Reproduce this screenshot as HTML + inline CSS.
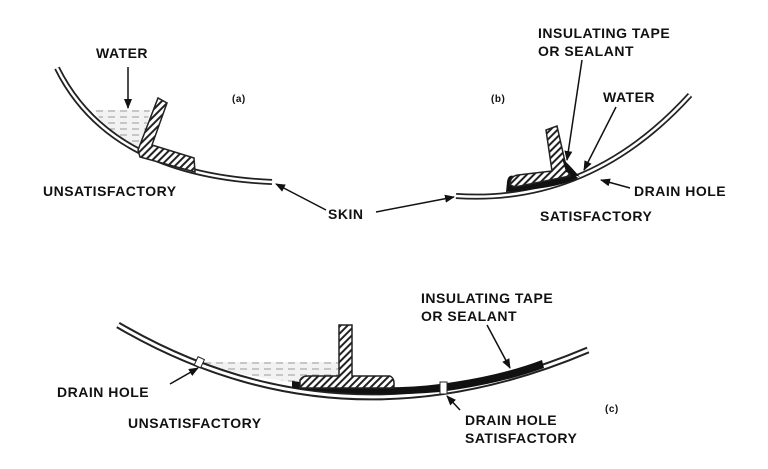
<!DOCTYPE html>
<html><head><style>
html,body{margin:0;padding:0;background:#fff;}
svg{display:block;}
text{font-family:"Liberation Sans",sans-serif;font-weight:bold;font-size:14px;fill:#111;letter-spacing:0.5px;}
</style></head><body>
<svg width="768" height="469" viewBox="0 0 768 469" xmlns="http://www.w3.org/2000/svg">
<defs>
<pattern id="h" width="5" height="5" patternUnits="userSpaceOnUse" patternTransform="rotate(45)">
<rect width="5" height="5" fill="#fff"/><rect width="2" height="5" fill="#222"/>
</pattern>
<pattern id="w" width="12" height="6" patternUnits="userSpaceOnUse">
<rect width="12" height="6" fill="#f2f2f2"/><line x1="0" y1="3" x2="7" y2="3" stroke="#999" stroke-width="1"/>
</pattern>
<marker id="a" markerWidth="10" markerHeight="8" refX="9" refY="4" orient="auto" markerUnits="userSpaceOnUse">
<path d="M0,0 L10,4 L0,8 z" fill="#111"/>
</marker>
</defs>

<!-- (a) -->
<path d="M95,110 L150,110 L142,148 L115,138 Q100,122 95,110 Z" fill="url(#w)"/>
<path d="M57,68 Q110,175 272,182" fill="none" stroke="#222" stroke-width="6"/>
<path d="M57,68 Q110,175 272,182" fill="none" stroke="#fff" stroke-width="2.5"/>
<path d="M138,150 L158,98 L167,103 L152,145 L194,158 L195,172 L140,157 Z" fill="url(#h)" stroke="#222" stroke-width="1.5"/>
<text x="96" y="58">WATER</text>
<line x1="128" y1="67" x2="128" y2="108" stroke="#111" stroke-width="1.5" marker-end="url(#a)"/>
<text x="232" y="102" style="font-size:10px">(a)</text>
<text x="43" y="196">UNSATISFACTORY</text>
<text x="328" y="219">SKIN</text>
<line x1="326" y1="210" x2="276" y2="184" stroke="#111" stroke-width="1.5" marker-end="url(#a)"/>
<line x1="376" y1="212" x2="454" y2="197" stroke="#111" stroke-width="1.5" marker-end="url(#a)"/>

<!-- (b) -->
<path d="M456,196 Q590,205 690,95" fill="none" stroke="#222" stroke-width="6"/>
<path d="M456,196 Q590,205 690,95" fill="none" stroke="#fff" stroke-width="2.5"/>
<path d="M506,192 L507,182 Q508,174 514,176 L572,172 L578,178 Q560,188 506,192 Z" fill="#111"/>
<path d="M510,185 Q510,176 518,175 L552,171 L546,130 L557,126 L566,166 L570,176 L515,187 Z" fill="url(#h)" stroke="#222" stroke-width="1.5"/>
<path d="M562,158 L566,172 L580,177 L570,166 Z" fill="#111"/>
<rect x="595" y="175" width="5" height="7" fill="#fff" transform="rotate(-25 597 178)"/>
<text x="538" y="38">INSULATING TAPE</text>
<text x="538" y="56">OR SEALANT</text>
<line x1="582" y1="60" x2="567" y2="160" stroke="#111" stroke-width="1.5" marker-end="url(#a)"/>
<text x="491" y="102" style="font-size:10px">(b)</text>
<text x="603" y="102">WATER</text>
<line x1="616" y1="107" x2="584" y2="170" stroke="#111" stroke-width="1.5" marker-end="url(#a)"/>
<text x="634" y="196">DRAIN HOLE</text>
<line x1="630" y1="188" x2="601" y2="180" stroke="#111" stroke-width="1.5" marker-end="url(#a)"/>
<text x="540" y="221">SATISFACTORY</text>

<!-- (c) -->
<path d="M200,362 L340,362 L340,378 L292,382 Q240,376 200,362 Z" fill="url(#w)"/>
<path d="M118,325 Q340,455 588,350" fill="none" stroke="#222" stroke-width="7"/>
<path d="M118,325 Q340,455 588,350" fill="none" stroke="#fff" stroke-width="3"/>
<path d="M292,381 Q380,392 440,384 Q500,376 542,360 L544,368 Q500,384 440,392 Q370,398 292,388 Z" fill="#111"/>
<path d="M300,388 L300,380 Q302,376 308,376 L339,376 L339,325 L352,325 L352,376 L390,376 Q394,378 394,383 L394,388 Z" fill="url(#h)" stroke="#222" stroke-width="1.5"/>
<rect x="196" y="358" width="7" height="9" fill="#fff" stroke="#222" stroke-width="1" transform="rotate(25 200 362)"/>
<rect x="440" y="382" width="7" height="12" fill="#fff" stroke="#222" stroke-width="1"/>
<text x="421" y="303">INSULATING TAPE</text>
<text x="421" y="321">OR SEALANT</text>
<line x1="487" y1="325" x2="510" y2="368" stroke="#111" stroke-width="1.5" marker-end="url(#a)"/>
<text x="57" y="397">DRAIN HOLE</text>
<line x1="170" y1="384" x2="198" y2="368" stroke="#111" stroke-width="1.5" marker-end="url(#a)"/>
<text x="128" y="428">UNSATISFACTORY</text>
<text x="465" y="425">DRAIN HOLE</text>
<line x1="460" y1="410" x2="447" y2="396" stroke="#111" stroke-width="1.5" marker-end="url(#a)"/>
<text x="465" y="443">SATISFACTORY</text>
<text x="605" y="412" style="font-size:10px">(c)</text>
</svg>
</body></html>
